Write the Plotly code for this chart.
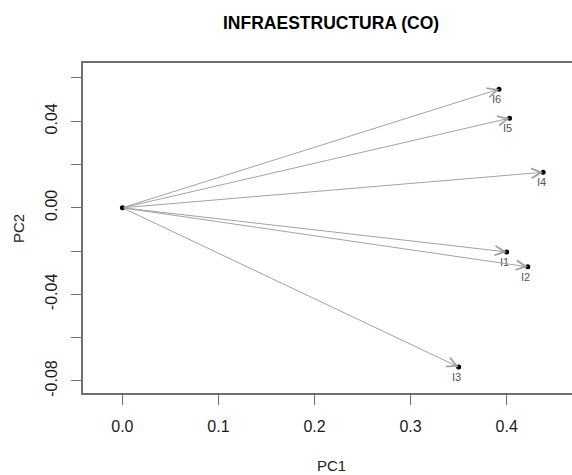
import plotly.graph_objects as go

names = ["I1", "I2", "I3", "I4", "I5", "I6"]
pc1 = [0.400, 0.422, 0.350, 0.438, 0.403, 0.392]
pc2 = [-0.0204, -0.0273, -0.0736, 0.0164, 0.0414, 0.0548]

xticks = [0.0, 0.1, 0.2, 0.3, 0.4]
xticktext = ["0.0", "0.1", "0.2", "0.3", "0.4"]
yticks = [-0.08, -0.06, -0.04, -0.02, 0.00, 0.02, 0.04, 0.06]
yticktext = ["-0.08", "", "-0.04", "", "0.00", "", "0.04", ""]

title = "INFRAESTRUCTURA (CO)"
xlabel = "PC1"
ylabel = "PC2"

FONT = "Liberation Sans, Arial, sans-serif"
AXC = "#707070"

fig = go.Figure()

# endpoint dots + origin
fig.add_trace(go.Scatter(
    x=[0] + pc1, y=[0] + pc2, mode="markers",
    marker=dict(color="black", size=5), showlegend=False, hoverinfo="skip",
    cliponaxis=False))

annotations = []
for n, x, y in zip(names, pc1, pc2):
    annotations.append(dict(
        x=x, y=y, xref="x", yref="y", ax=0, ay=0, axref="x", ayref="y",
        text="", showarrow=True, arrowhead=5, arrowsize=1.9, arrowwidth=1,
        arrowcolor="#a3a3a3"))
    annotations.append(dict(
        x=x, y=y, xref="x", yref="y", text=n, showarrow=False,
        xshift=-2, yshift=-10, font=dict(family=FONT, size=11, color="#4a5272")))

annotations.append(dict(
    x=0.508, y=1.121, xref="paper", yref="paper", text="<b>%s</b>" % title,
    showarrow=False, xanchor="center", yanchor="middle",
    font=dict(family=FONT, size=17.5, color="black")))
annotations.append(dict(
    x=0.508, y=-0.221, xref="paper", yref="paper", text=xlabel,
    showarrow=False, xanchor="center", yanchor="middle",
    font=dict(family=FONT, size=15, color="#222222")))
annotations.append(dict(
    x=-0.133, y=0.5, xref="paper", yref="paper", text=ylabel, textangle=-90,
    showarrow=False, xanchor="center", yanchor="middle",
    font=dict(family=FONT, size=15, color="#222222")))

fig.update_layout(
    width=572, height=475,
    margin=dict(l=83, r=0, t=63, b=82, autoexpand=False),
    paper_bgcolor="white", plot_bgcolor="white",
    showlegend=False,
    annotations=annotations,
    xaxis=dict(range=[-0.041, 0.468], tickvals=xticks, ticktext=xticktext,
               ticks="outside", ticklen=10, tickwidth=1.2, tickcolor=AXC,
               showline=True, linecolor=AXC, linewidth=1.8, mirror=True,
               showgrid=False, zeroline=False, ticklabelstandoff=8,
               automargin=False,
               tickfont=dict(family=FONT, size=16, color="#1a1a1a")),
    yaxis=dict(range=[-0.0856, 0.0669], tickvals=yticks, ticktext=yticktext,
               ticks="outside", ticklen=10, tickwidth=1.2, tickcolor=AXC,
               showline=True, linecolor=AXC, linewidth=1.8,
               showgrid=False, zeroline=False, tickangle=-90,
               ticklabelstandoff=8, automargin=False,
               tickfont=dict(family=FONT, size=16, color="#1a1a1a")),
)

fig.write_html(
    "out.html",
    config={"displayModeBar": False},
    post_script="document.body.style.margin='0';document.body.style.overflow='hidden';")
